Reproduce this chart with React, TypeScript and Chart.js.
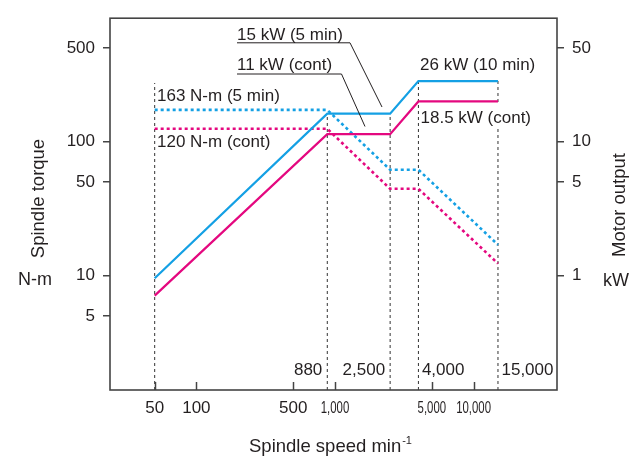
import React, { useEffect, useRef } from 'react';
import { Chart, registerables } from 'chart.js';
Chart.register(...registerables);

const FONT = '"Liberation Sans", Arial, Helvetica, sans-serif';
const INK = '#231f20';
const BLUE = '#14a0e4';
const PINK = '#e4087f';

// spindle speed break points (min^-1)
const speeds = [50, 880, 2500, 4000, 15000];
// motor output (kW)
const power5min = [0.955, 16.2, 16.2, 28.4, 28.4];
const powerCont = [0.709, 11.4, 11.4, 20.0, 20.0];
// spindle torque (N-m)
const torque5min = [173, 173, 61.8, 61.8, 17.0];
const torqueCont = [125, 125, 44.5, 44.5, 12.3];

// vertical guide lines (speed, top in N-m)
const guideSpeeds = [50, 880, 2500, 4000, 15000];
const guideTops = [275, 162, 162, 284, 284];
const guideLabels = ['', '880', '2,500', '4,000', '15,000'];

const speedTicks = [50, 100, 500, 1000, 5000, 10000];
const speedTickLabels = ['50', '100', '500', '1,000', '5,000', '10,000'];
const torqueTicks = [5, 10, 50, 100, 500];
const powerTicks = [1, 5, 10, 50];

const TORQUE_MIN = 1.397;
const TORQUE_MAX = 838;

function pts(xs: number[], ys: number[]) {
  return xs.map((x, i) => ({ x, y: ys[i] }));
}

const overlay = {
  id: 'overlay',
  afterDraw(chart: any) {
    const ctx: CanvasRenderingContext2D = chart.ctx;
    const { left, right, top, bottom } = chart.chartArea;
    const xs = chart.scales.x;
    ctx.save();
    // white patch behind the 18.5 kW label (interrupts the 15,000 guide)
    ctx.fillStyle = '#ffffff';
    ctx.fillRect(419, 103, 116, 25);
    // frame
    ctx.strokeStyle = '#444';
    ctx.lineWidth = 1.6;
    ctx.strokeRect(left, top, right - left, bottom - top);
    // inward x ticks
    ctx.lineWidth = 1.5;
    speedTicks.forEach((v) => {
      const px = Math.round(xs.getPixelForValue(v)) + 0.5;
      ctx.beginPath();
      ctx.moveTo(px, bottom);
      ctx.lineTo(px, bottom - 8);
      ctx.stroke();
    });
    // x tick labels
    ctx.fillStyle = INK;
    ctx.textBaseline = 'alphabetic';
    ctx.textAlign = 'center';
    ctx.font = `17px ${FONT}`;
    speedTicks.forEach((v, i) => {
      const px = xs.getPixelForValue(v);
      ctx.save();
      ctx.translate(px, 413);
      if (v >= 1000) ctx.scale(0.67, 1);
      ctx.fillText(speedTickLabels[i], 0, 0);
      ctx.restore();
    });
    // guide speed labels
    guideSpeeds.forEach((v, i) => {
      const lab = guideLabels[i];
      if (!lab) return;
      const px = xs.getPixelForValue(v);
      if (i < 3) {
        ctx.textAlign = 'right';
        ctx.fillText(lab, px - 5, 375);
      } else {
        ctx.textAlign = 'left';
        ctx.fillText(lab, px + 3.5, 375);
      }
    });
    // annotations
    ctx.textAlign = 'left';
    ctx.fillText('163 N-m (5 min)', 157, 101);
    ctx.fillText('120 N-m (cont)', 157, 147);
    ctx.fillText('15 kW (5 min)', 237, 39.5);
    ctx.fillText('11 kW (cont)', 237, 69.5);
    ctx.fillText('26 kW (10 min)', 420, 70);
    ctx.fillText('18.5 kW (cont)', 420.5, 122.5);
    // leader lines
    ctx.strokeStyle = INK;
    ctx.lineWidth = 1;
    ctx.beginPath();
    ctx.moveTo(237, 42.8);
    ctx.lineTo(350, 42.8);
    ctx.lineTo(382, 107);
    ctx.stroke();
    ctx.beginPath();
    ctx.moveTo(237, 74);
    ctx.lineTo(341.5, 74);
    ctx.lineTo(365, 126.5);
    ctx.stroke();
    // axis titles
    ctx.font = `18.5px ${FONT}`;
    ctx.textAlign = 'left';
    const t = 'Spindle speed min';
    ctx.fillText(t, 249, 451.5);
    const w = ctx.measureText(t).width;
    ctx.font = `11px ${FONT}`;
    ctx.fillText('-1', 249 + w + 1, 444);
    ctx.font = `18px ${FONT}`;
    ctx.fillText('N-m', 18, 285);
    ctx.fillText('kW', 603, 286);
    ctx.font = `18.5px ${FONT}`;
    ctx.textAlign = 'center';
    ctx.save();
    ctx.translate(44, 198.5);
    ctx.rotate(-Math.PI / 2);
    ctx.fillText('Spindle torque', 0, 0);
    ctx.restore();
    ctx.save();
    ctx.translate(624.5, 205);
    ctx.rotate(-Math.PI / 2);
    ctx.fillText('Motor output', 0, 0);
    ctx.restore();
    ctx.restore();
  },
};

export default function App() {
  const ref = useRef<HTMLCanvasElement | null>(null);
  useEffect(() => {
    if (!ref.current) return;
    const guideSets = guideSpeeds.map((s, i) => ({
      data: [
        { x: s, y: TORQUE_MIN },
        { x: s, y: guideTops[i] },
      ],
      yAxisID: 'y',
      borderColor: '#333',
      borderWidth: 1,
      borderDash: [3, 3],
      pointRadius: 0,
      order: 10,
    }));
    const yTickFont = { family: FONT, size: 17 };
    const chart = new Chart(ref.current, {
      type: 'line',
      data: {
        datasets: [
          {
            data: pts(speeds, power5min),
            yAxisID: 'y1',
            borderColor: BLUE,
            borderWidth: 2.2,
            pointRadius: 0,
            order: 1,
          },
          {
            data: pts(speeds, powerCont),
            yAxisID: 'y1',
            borderColor: PINK,
            borderWidth: 2.2,
            pointRadius: 0,
            order: 1,
          },
          {
            data: pts(speeds, torque5min),
            yAxisID: 'y',
            borderColor: BLUE,
            borderWidth: 2.6,
            borderDash: [3, 3],
            pointRadius: 0,
            order: 2,
          },
          {
            data: pts(speeds, torqueCont),
            yAxisID: 'y',
            borderColor: PINK,
            borderWidth: 2.6,
            borderDash: [3, 3],
            pointRadius: 0,
            order: 2,
          },
          ...guideSets,
        ] as any,
      },
      options: {
        animation: false,
        responsive: true,
        maintainAspectRatio: false,
        layout: { padding: { top: 13, left: 0, right: 0, bottom: 0 } },
        plugins: { legend: { display: false }, tooltip: { enabled: false } },
        elements: { line: { tension: 0, fill: false, borderCapStyle: 'butt' } },
        scales: {
          x: {
            type: 'logarithmic',
            min: 23.8,
            max: 40000,
            afterBuildTicks: (s: any) => {
              s.ticks = speedTicks.map((v) => ({ value: v }));
            },
            afterFit: (s: any) => {
              s.height = 66;
            },
            ticks: { display: false },
            grid: { display: false },
            border: { display: false },
          },
          y: {
            type: 'logarithmic',
            position: 'left',
            min: TORQUE_MIN,
            max: TORQUE_MAX,
            afterBuildTicks: (s: any) => {
              s.ticks = torqueTicks.map((v) => ({ value: v }));
            },
            afterFit: (s: any) => {
              s.width = 110;
            },
            ticks: {
              font: yTickFont,
              color: INK,
              padding: 8,
              autoSkip: false,
              callback: (v: any) => String(v),
            },
            grid: { drawOnChartArea: false, tickLength: 7, color: '#444', lineWidth: 1.5 },
            border: { display: false },
          },
          y1: {
            type: 'logarithmic',
            position: 'right',
            min: TORQUE_MIN / 10,
            max: TORQUE_MAX / 10,
            afterBuildTicks: (s: any) => {
              s.ticks = powerTicks.map((v) => ({ value: v }));
            },
            afterFit: (s: any) => {
              s.width = 73;
            },
            ticks: {
              font: yTickFont,
              color: INK,
              padding: 8,
              autoSkip: false,
              callback: (v: any) => String(v),
            },
            grid: { drawOnChartArea: false, tickLength: 7, color: '#444', lineWidth: 1.5 },
            border: { display: false },
          },
        },
      } as any,
      plugins: [overlay],
    });
    return () => chart.destroy();
  }, []);
  return (
    <div style={{ position: 'absolute', left: 0, top: 0, width: 630, height: 456, background: '#fff' }}>
      <canvas ref={ref} />
    </div>
  );
}
